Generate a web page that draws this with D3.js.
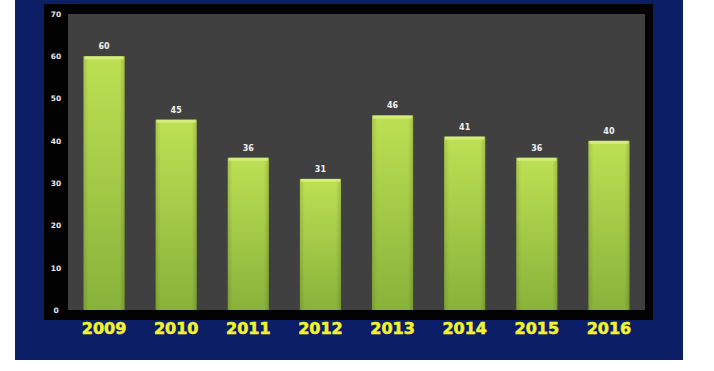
<!DOCTYPE html>
<html>
<head>
<meta charset="utf-8">
<script src="https://cdn.jsdelivr.net/npm/d3@7"></script>
<style>
  body { margin: 0; background: #ffffff; }
  svg { display: block; }
</style>
</head>
<body>
<div id="chart"></div>
<script>
const years = ["2009", "2010", "2011", "2012", "2013", "2014", "2015", "2016"];
const values = [60, 45, 36, 31, 46, 41, 36, 40];
const yTicks = [0, 10, 20, 30, 40, 50, 60, 70];

const width = 714;
const height = 371;
const plot = { left: 68, right: 645, top: 14, bottom: 310 };

const svg = d3.select("#chart").append("svg")
  .attr("width", width)
  .attr("height", height);

const defs = svg.append("defs");
const grad = defs.append("linearGradient")
  .attr("id", "barGrad")
  .attr("x1", 0).attr("y1", 0).attr("x2", 0).attr("y2", 1);
grad.append("stop").attr("offset", "0%").attr("stop-color", "#bde053");
grad.append("stop").attr("offset", "100%").attr("stop-color", "#89b23a");

const side = defs.append("linearGradient")
  .attr("id", "sideGrad")
  .attr("x1", 0).attr("y1", 0).attr("x2", 1).attr("y2", 0);
side.append("stop").attr("offset", "0%").attr("stop-color", "#000").attr("stop-opacity", 0.12);
side.append("stop").attr("offset", "12%").attr("stop-color", "#000").attr("stop-opacity", 0);
side.append("stop").attr("offset", "88%").attr("stop-color", "#000").attr("stop-opacity", 0);
side.append("stop").attr("offset", "100%").attr("stop-color", "#000").attr("stop-opacity", 0.15);

// navy background panel
svg.append("rect")
  .attr("x", 15).attr("y", 0)
  .attr("width", 668).attr("height", 360)
  .attr("fill", "#0b1e66");

// black frame
svg.append("rect")
  .attr("x", 44).attr("y", 4)
  .attr("width", 609).attr("height", 316)
  .attr("fill", "#020202");

// plot area
svg.append("rect")
  .attr("x", plot.left).attr("y", plot.top)
  .attr("width", plot.right - plot.left).attr("height", plot.bottom - plot.top)
  .attr("fill", "#404040");

const x = d3.scaleBand()
  .domain(years)
  .range([plot.left, plot.right])
  .paddingInner(0.43)
  .paddingOuter(0.215);

const y = d3.scaleLinear()
  .domain([0, 70])
  .range([plot.bottom, plot.top]);

// y axis labels
const yAxis = svg.append("g")
  .attr("transform", `translate(56,0)`)
  .call(d3.axisLeft(y).tickValues(yTicks).tickSize(0).tickPadding(0));
yAxis.select(".domain").remove();
yAxis.selectAll("text")
  .attr("text-anchor", "middle")
  .attr("fill", "#e8e8e8")
  .attr("font-family", "DejaVu Sans, sans-serif")
  .attr("font-weight", "bold")
  .attr("font-size", 7.5);

const data = years.map((yr, i) => ({ year: yr, value: values[i] }));

const bars = svg.append("g").selectAll("g")
  .data(data)
  .join("g");

bars.append("rect")
  .attr("x", d => x(d.year))
  .attr("y", d => y(d.value))
  .attr("width", x.bandwidth())
  .attr("height", d => y(0) - y(d.value))
  .attr("fill", "url(#barGrad)");

bars.append("rect")
  .attr("x", d => x(d.year))
  .attr("y", d => y(d.value))
  .attr("width", x.bandwidth())
  .attr("height", d => y(0) - y(d.value))
  .attr("fill", "url(#sideGrad)");

// top bevel
bars.append("rect")
  .attr("x", d => x(d.year) + 1)
  .attr("y", d => y(d.value))
  .attr("width", x.bandwidth() - 2)
  .attr("height", 3)
  .attr("fill", "#dcef8a")
  .attr("opacity", 0.8);

bars.append("text")
  .attr("x", d => x(d.year) + x.bandwidth() / 2)
  .attr("y", d => y(d.value) - 7)
  .attr("text-anchor", "middle")
  .attr("fill", "#f0f0f0")
  .attr("font-family", "DejaVu Sans, sans-serif")
  .attr("font-weight", "bold")
  .attr("font-size", 8)
  .text(d => d.value);

// x axis labels
const xAxis = svg.append("g")
  .attr("transform", `translate(0,${plot.bottom})`)
  .call(d3.axisBottom(x).tickSize(0).tickPadding(0));
xAxis.select(".domain").remove();
xAxis.selectAll("text")
  .attr("dy", null)
  .attr("y", 24)
  .attr("fill", "#f2f230")
  .attr("stroke", "#f2f230")
  .attr("stroke-width", 0.6)
  .attr("font-family", "DejaVu Sans, sans-serif")
  .attr("font-weight", "bold")
  .attr("font-size", 16);
</script>
</body>
</html>
